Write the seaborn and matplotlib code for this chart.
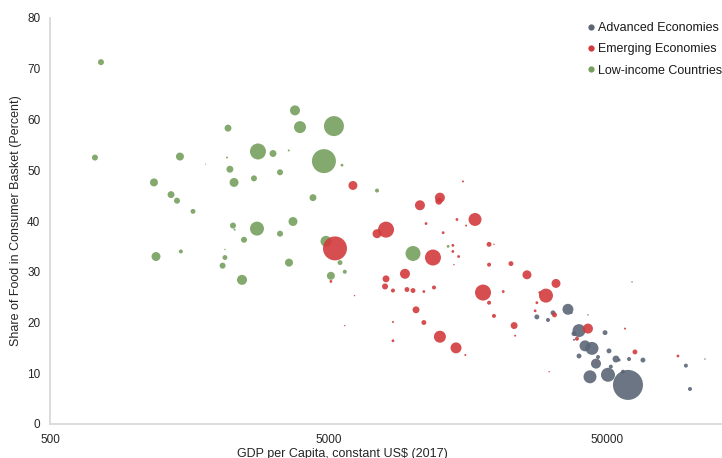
import matplotlib
matplotlib.use("Agg")
import matplotlib.pyplot as plt
from matplotlib.lines import Line2D
import numpy as np
import pandas as pd
import seaborn as sns

# GDP per capita (constant 2017 US$), food share of CPI basket (%), bubble weight
adv_gdp = [28000, 30700, 32000, 36200, 37300, 42700, 61500, 39670, 38060, 38060,
           49200, 41700, 44170, 39670, 46420, 50830, 53860, 55300, 60000, 67300,
           45650, 51600, 43450, 50420, 57050, 59470, 96000, 99300, 112400]
adv_food = [21.1, 20.5, 21.9, 22.6, 21.9, 21.5, 28.0, 18.4, 17.8, 16.6,
            18.0, 15.4, 14.9, 13.4, 13.2, 14.4, 12.8, 12.6, 12.8, 12.6,
            11.9, 11.3, 9.3, 9.7, 10.3, 7.7, 11.5, 6.9, 12.8]
adv_weight = [6, 4, 6, 30, 1, 0.5, 0.5, 42, 6, 1,
              6, 30, 42, 6, 4, 6, 12, 2, 4, 6,
              25, 4, 42, 49, 4, 225, 4, 4, 0.5]

emg_gdp = [6120, 7467, 8045, 10650, 12560, 12450, 15200, 16790, 14460, 15600,
           11200, 12900, 18860, 19640, 18860, 13980, 13980, 14660, 14100, 11860,
           5275, 5100, 6200, 9410, 8045, 7980, 8520, 9565, 10057, 11000,
           11960, 17940, 22600, 25800, 32800, 30190, 28700, 28000, 27600, 32400,
           21200, 18860, 19640, 23200, 23400, 10310, 11000, 8520, 8520, 12560,
           14350, 15500, 42720, 39000, 46000, 63000, 89900, 5720, 58000, 31000]
emg_food = [47.0, 37.5, 38.3, 43.1, 44.6, 43.9, 47.8, 40.3, 40.3, 39.1,
            39.5, 37.7, 35.4, 35.4, 31.4, 35.2, 34.0, 33.0, 31.4, 32.8,
            34.6, 28.1, 25.3, 29.6, 28.6, 27.1, 26.3, 26.5, 26.3, 26.1,
            26.9, 25.9, 31.6, 29.4, 27.7, 25.3, 25.9, 23.9, 22.3, 21.5,
            26.1, 23.9, 21.3, 19.4, 17.4, 22.5, 20.0, 20.1, 16.4, 17.2,
            15.0, 13.6, 18.8, 16.8, 12.2, 14.2, 13.4, 19.4, 18.8, 10.3]
emg_weight = [20, 20, 64, 25, 25, 12, 1, 42, 2, 1,
              2, 2, 6, 0.5, 4, 2, 2, 2, 0.5, 64,
              144, 2, 0.5, 25, 12, 9, 4, 6, 6, 2,
              4, 64, 6, 20, 20, 49, 2, 2, 2, 6,
              2, 4, 4, 12, 1, 12, 6, 1, 2, 36,
              30, 1, 25, 4, 0.5, 6, 2, 0.5, 1, 0.5]

low_gdp = [762, 725, 2178, 2791, 3160, 2160, 1464, 2213, 2700, 3349,
           2290, 1181, 1360, 1429, 1631, 2270, 2300, 2768, 3349, 2486,
           1201, 1475, 2124, 2124, 2083, 2446, 3790, 3950, 5230, 3600,
           4815, 5590, 4398, 7467, 3728, 3607, 4897, 5500, 5720, 5100,
           10057, 13440, 1810]
low_food = [71.3, 52.5, 58.3, 53.7, 53.3, 52.5, 52.7, 50.2, 48.4, 49.6,
            47.6, 47.6, 45.2, 44.0, 41.9, 39.1, 38.3, 38.5, 37.5, 36.3,
            33.0, 34.0, 34.4, 32.8, 31.2, 28.4, 61.8, 58.5, 58.7, 53.9,
            51.8, 51.0, 44.6, 46.0, 39.9, 31.8, 36.0, 31.8, 30.0, 29.2,
            33.6, 35.0, 51.2]
low_weight = [9, 9, 12, 64, 12, 1, 16, 12, 9, 9,
              20, 16, 12, 9, 6, 9, 1, 49, 9, 9,
              20, 4, 0.5, 6, 9, 25, 25, 36, 100, 1,
              144, 2, 12, 4, 20, 16, 30, 6, 4, 16,
              56, 2, 0.3]

groups = ["Advanced Economies", "Emerging Economies", "Low-income Countries"]
colors = {"Advanced Economies": "#5b6676",
          "Emerging Economies": "#d23b3d",
          "Low-income Countries": "#77a05e"}

x_ticks = [500, 5000, 50000]
y_ticks = [0, 10, 20, 30, 40, 50, 60, 70, 80]

# drawing order: low-income, advanced, then emerging on top
df = pd.concat([
    pd.DataFrame({"gdp": low_gdp, "food": low_food, "weight": low_weight,
                  "group": groups[2]}),
    pd.DataFrame({"gdp": adv_gdp, "food": adv_food, "weight": adv_weight,
                  "group": groups[0]}),
    pd.DataFrame({"gdp": emg_gdp, "food": emg_food, "weight": emg_weight,
                  "group": groups[1]}),
], ignore_index=True)

sns.set_style("white")
plt.rcParams["font.family"] = ["Liberation Sans", "DejaVu Sans"]

fig = plt.figure(figsize=(7.22, 4.58), dpi=100)
ax = fig.add_axes([50 / 722, 34 / 458, 672 / 722, 406 / 458])

wmax = max(max(adv_weight), max(emg_weight), max(low_weight))
# marker area in points^2 proportional to weight (weight = pixel radius^2)
smax = wmax * (2 * 0.72) ** 2
sns.scatterplot(data=df, x="gdp", y="food", hue="group", size="weight",
                palette=colors, sizes=(0, smax), size_norm=(0, wmax),
                alpha=0.9, linewidth=0, legend=False, ax=ax)

ax.set_xscale("log")
ax.set_xlim(500, 129400)
ax.set_ylim(0, 80)
ax.set_xticks(x_ticks)
ax.set_xticklabels([str(t) for t in x_ticks])
ax.xaxis.set_minor_locator(matplotlib.ticker.NullLocator())
ax.set_yticks(y_ticks)
ax.tick_params(axis="both", length=0, labelsize=8.5, colors="#262626", pad=7)

for side in ["top", "right"]:
    ax.spines[side].set_visible(False)
for side in ["left", "bottom"]:
    ax.spines[side].set_color("#d9d9d9")
    ax.spines[side].set_linewidth(1.3)

ax.set_xlabel("GDP per Capita, constant US$ (2017)", fontsize=9, color="#262626")
ax.set_ylabel("Share of Food in Consumer Basket (Percent)", fontsize=9,
              color="#262626")
ax.xaxis.set_label_coords((342 - 50) / 672, -0.058)
ax.yaxis.set_label_coords(-0.041, 0.5)

handles = [Line2D([0], [0], marker="o", linestyle="", markersize=4.5,
                  markerfacecolor=colors[g], markeredgewidth=0, label=g)
           for g in groups]
leg = ax.legend(handles=handles, loc="upper left",
                bbox_to_anchor=(587 / 722, 1 - 22 / 458),
                bbox_transform=fig.transFigure, frameon=False, fontsize=9,
                handlelength=0.6, handletextpad=0.25, labelspacing=0.75,
                borderaxespad=0, borderpad=0)
for t in leg.get_texts():
    t.set_color("#1a1a1a")

fig.savefig("out.png", dpi=100)
